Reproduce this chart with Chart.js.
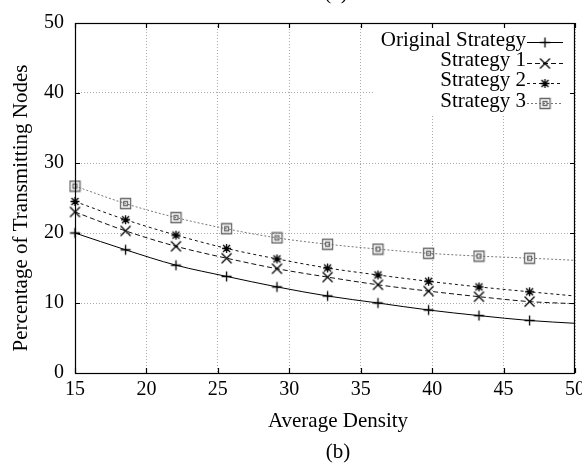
<!DOCTYPE html>
<html>
<head>
<meta charset="utf-8">
<script src="https://cdn.jsdelivr.net/npm/chart.js@4"></script>
<style>
  html, body { margin: 0; padding: 0; background: #fff; }
</style>
</head>
<body>
<canvas id="densityChart" width="582" height="464"></canvas>
<script>
// values (last x is where the curves end, no marker there)
const density = [15, 18.54, 22.07, 25.61, 29.14, 32.68, 36.21, 39.75, 43.28, 46.82, 50];
const originalStrategy = [20.0, 17.6, 15.4, 13.8, 12.3, 11.0, 10.0, 9.0, 8.2, 7.5, 7.1];
const strategy1 = [23.0, 20.3, 18.1, 16.4, 14.9, 13.7, 12.6, 11.7, 10.9, 10.2, 9.9];
const strategy2 = [24.5, 21.9, 19.7, 17.8, 16.3, 15.0, 14.0, 13.1, 12.3, 11.6, 11.0];
const strategy3 = [26.7, 24.2, 22.2, 20.6, 19.3, 18.4, 17.7, 17.1, 16.7, 16.4, 16.1];
const xTicks = [15, 20, 25, 30, 35, 40, 45, 50];
const yTicks = [0, 10, 20, 30, 40, 50];

const serif = '"Liberation Serif", "DejaVu Serif", serif';

function makeMarker(kind, color) {
    const c = document.createElement("canvas");
    c.width = 13;
    c.height = 13;
    const g = c.getContext("2d");
    g.strokeStyle = color;
    g.lineWidth = 1.3;
    const m = 6.5;
    g.beginPath();
    if (kind === "plus") {
        g.moveTo(m - 5, m); g.lineTo(m + 5, m);
        g.moveTo(m, m - 5); g.lineTo(m, m + 5);
    }
    if (kind === "cross") {
        g.moveTo(m - 5, m - 5); g.lineTo(m + 5, m + 5);
        g.moveTo(m - 5, m + 5); g.lineTo(m + 5, m - 5);
    }
    if (kind === "star") {
        g.moveTo(m - 4.5, m); g.lineTo(m + 4.5, m);
        g.moveTo(m, m - 4.5); g.lineTo(m, m + 4.5);
        g.moveTo(m - 3.5, m - 3.5); g.lineTo(m + 3.5, m + 3.5);
        g.moveTo(m - 3.5, m + 3.5); g.lineTo(m + 3.5, m - 3.5);
    }
    if (kind === "box") {
        g.rect(1.5, 1.5, 10, 10);
        g.rect(4.5, 4.5, 4, 4);
    }
    g.stroke();
    return c;
}

const series = [
    { label: "Original Strategy", values: originalStrategy, color: "#000", dash: [], marker: makeMarker("plus", "#000") },
    { label: "Strategy 1", values: strategy1, color: "#111", dash: [5, 3], marker: makeMarker("cross", "#000") },
    { label: "Strategy 2", values: strategy2, color: "#111", dash: [3, 3], marker: makeMarker("star", "#000") },
    { label: "Strategy 3", values: strategy3, color: "#777", dash: [2, 2], marker: makeMarker("box", "#666") }
];

const gnuplotFrame = {
    id: "gnuplotFrame",
    beforeDatasetsDraw(chart) {
        // key box hides the grid behind it
        const { ctx, chartArea: a } = chart;
        ctx.save();
        ctx.fillStyle = "#fff";
        ctx.fillRect(a.right - 202, a.top + 1, 201, 91);
        ctx.restore();
    },
    afterDraw(chart) {
        const { ctx, chartArea: a } = chart;
        const xs = chart.scales.x, ys = chart.scales.y;
        ctx.save();
        ctx.strokeStyle = "#000";
        ctx.lineWidth = 1.2;
        ctx.setLineDash([]);
        ctx.strokeRect(a.left + 0.5, a.top + 0.5, a.right - a.left - 1, a.bottom - a.top);

        // inward ticks on all four sides
        ctx.beginPath();
        xTicks.forEach(v => {
            const px = Math.round(xs.getPixelForValue(v)) + 0.5;
            ctx.moveTo(px, a.bottom); ctx.lineTo(px, a.bottom - 5);
            ctx.moveTo(px, a.top); ctx.lineTo(px, a.top + 5);
        });
        yTicks.forEach(v => {
            const py = Math.round(ys.getPixelForValue(v)) + 0.5;
            ctx.moveTo(a.left, py); ctx.lineTo(a.left + 5, py);
            ctx.moveTo(a.right, py); ctx.lineTo(a.right - 5, py);
        });
        ctx.stroke();

        // key
        ctx.font = "21px " + serif;
        ctx.fillStyle = "#000";
        ctx.textAlign = "right";
        ctx.textBaseline = "alphabetic";
        series.forEach((s, i) => {
            const base = a.top + 23 + 20.2 * i;
            ctx.fillText(s.label, a.right - 49, base);
            const ly = Math.round(base - 3.7) + 0.5;
            ctx.strokeStyle = s.color;
            ctx.lineWidth = 1;
            ctx.setLineDash(s.dash);
            ctx.beginPath();
            ctx.moveTo(a.right - 48, ly);
            ctx.lineTo(a.right - 12, ly);
            ctx.stroke();
            ctx.setLineDash([]);
            ctx.drawImage(s.marker, a.right - 30 - s.marker.width / 2, ly - s.marker.height / 2);
        });

        // axis titles and captions
        const cx = (a.left + a.right) / 2;
        ctx.textAlign = "center";
        ctx.fillText("Average Density", cx + 13, a.bottom + 54);
        ctx.fillText("(b)", cx + 13, a.bottom + 85);
        ctx.fillText("(a)", cx + 11, a.top - 24);
        ctx.save();
        ctx.translate(26.5, (a.top + a.bottom) / 2 + 10);
        ctx.rotate(-Math.PI / 2);
        ctx.fillText("Percentage of Transmitting Nodes", 0, 0);
        ctx.restore();
        ctx.restore();
    }
};

const ctx = document.getElementById("densityChart").getContext("2d");
new Chart(ctx, {
    type: "line",
    data: {
        datasets: series.map(s => ({
            label: s.label,
            data: density.map((x, i) => ({ x: x, y: s.values[i] })),
            borderColor: s.color,
            borderWidth: 1,
            borderDash: s.dash,
            pointStyle: s.marker,
            pointRadius: c => (c.dataIndex === density.length - 1 ? 0 : 6),
            pointHoverRadius: c => (c.dataIndex === density.length - 1 ? 0 : 6),
            cubicInterpolationMode: "monotone",
            fill: false,
            clip: false
        }))
    },
    options: {
        responsive: false,
        animation: false,
        devicePixelRatio: 1,
        layout: { padding: { left: 0, right: 7, top: 23, bottom: 0 } },
        plugins: {
            legend: { display: false },
            tooltip: { enabled: false }
        },
        scales: {
            x: {
                type: "linear",
                min: 15,
                max: 50,
                afterBuildTicks: s => { s.ticks = xTicks.map(v => ({ value: v })); },
                afterFit: s => { s.height = 91; s.paddingLeft = 0; s.paddingRight = 0; },
                ticks: {
                    font: { family: serif, size: 20 },
                    color: "#000",
                    padding: 5,
                    maxRotation: 0,
                    autoSkip: false
                },
                grid: { color: "#aaa", lineWidth: 1, drawTicks: false },
                border: { display: false, dash: [1, 2] }
            },
            y: {
                min: 0,
                max: 50,
                afterBuildTicks: s => { s.ticks = yTicks.map(v => ({ value: v })); },
                afterFit: s => { s.width = 75; },
                ticks: {
                    font: { family: serif, size: 20 },
                    color: "#000",
                    padding: 11
                },
                grid: { color: "#aaa", lineWidth: 1, drawTicks: false },
                border: { display: false, dash: [1, 2] }
            }
        }
    },
    plugins: [gnuplotFrame]
});
</script>
</body>
</html>
